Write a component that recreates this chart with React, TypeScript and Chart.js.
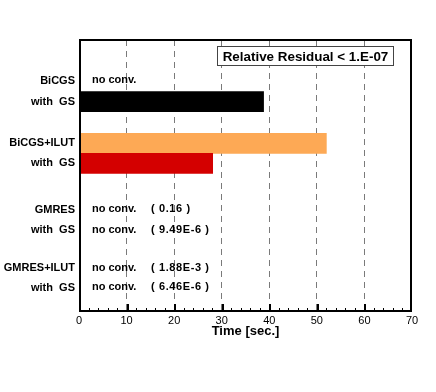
import React, { useEffect, useRef } from "react";
import { Chart, registerables } from "chart.js";

Chart.register(...registerables);

// ---- data ----
const rowLabels = ["BiCGS", "with  GS", "BiCGS+ILUT", "with  GS", "GMRES", "with  GS", "GMRES+ILUT", "with  GS"];
const rowSlots = [4.05, 6.17, 10.33, 12.33, 16.95, 19.0, 22.83, 24.77];
const times: (number | null)[] = [null, 38.8, 52.0, 28.1, null, null, null, null];
const statusNotes = ["no conv.", "", "", "", "no conv.", "no conv.", "no conv.", "no conv."];
const residualNotes = ["", "", "", "", "( 0.16 )", "( 9.49E-6 )", "( 1.88E-3 )", "( 6.46E-6 )"];
const barColors = ["#000000", "#000000", "#FDA955", "#D40000", "#000000", "#000000", "#000000", "#000000"];
const xMin = 0;
const xMax = 70;
const xStep = 10;
const minorStep = 2;
const legendText = "Relative Residual < 1.E-07";
const axisTitle = "Time [sec.]";

const FONT = "'Liberation Sans', Arial, Helvetica, sans-serif";

const decorPlugin = {
  id: "decor",
  afterDatasetsDraw(chart: any) {
    const { ctx, chartArea: a, scales } = chart;
    const x = scales.x;
    const y = scales.y;
    ctx.save();
    // annotations
    ctx.fillStyle = "#000";
    ctx.textAlign = "left";
    ctx.textBaseline = "middle";
    rowSlots.forEach((p, i) => {
      const py = y.getPixelForValue(p) - 0.5;
      ctx.font = `bold 11px ${FONT}`;
      (ctx as any).letterSpacing = "0px";
      if (statusNotes[i]) ctx.fillText(statusNotes[i], a.left + 13, py);
      (ctx as any).letterSpacing = "0.6px";
      if (residualNotes[i]) ctx.fillText(residualNotes[i], a.left + 72, py);
    });
    (ctx as any).letterSpacing = "0px";
    // tick marks
    ctx.strokeStyle = "#000";
    for (let v = xMin + minorStep; v < xMax; v += minorStep) {
      const major = v % xStep === 0;
      const px = major ? Math.round(x.getPixelForValue(v)) + 1 : Math.round(x.getPixelForValue(v)) + 0.5;
      ctx.lineWidth = major ? 2 : 1;
      const len = major ? 7 : 3;
      ctx.beginPath();
      ctx.moveTo(px, a.bottom);
      ctx.lineTo(px, a.bottom - len);
      ctx.stroke();
    }
    // frame
    ctx.lineWidth = 2;
    ctx.strokeRect(a.left + 1, a.top, a.right - 1 - (a.left + 1), a.bottom - a.top);
    // legend box
    ctx.font = `bold 13.4px ${FONT}`;
    const tw = ctx.measureText(legendText).width;
    const bw = Math.round(tw + 10);
    const bx = Math.round(a.right - 19 - bw) + 0.5;
    const by = a.top + 6.5;
    const bh = 19;
    ctx.fillStyle = "#fff";
    ctx.fillRect(bx, by, bw, bh);
    ctx.strokeStyle = "#444";
    ctx.lineWidth = 1;
    ctx.strokeRect(bx, by, bw, bh);
    ctx.fillStyle = "#000";
    ctx.textAlign = "center";
    ctx.textBaseline = "middle";
    ctx.fillText(legendText, bx + bw / 2, by + bh / 2 + 1);
    ctx.restore();
  },
};

export default function App() {
  const ref = useRef<HTMLCanvasElement | null>(null);
  useEffect(() => {
    if (!ref.current) return;
    const chart = new Chart(ref.current, {
      type: "bar",
      data: {
        datasets: [
          {
            data: rowSlots.map((p, i) => ({ x: times[i], y: p })) as any,
            backgroundColor: barColors,
            borderWidth: 0,
            barThickness: 20,
          },
        ],
      },
      options: {
        animation: false,
        responsive: true,
        maintainAspectRatio: false,
        indexAxis: "y",
        layout: { padding: { top: 40, right: 24, left: 0, bottom: 0 } },
        plugins: { legend: { display: false }, tooltip: { enabled: false } },
        scales: {
          x: {
            type: "linear",
            min: xMin,
            max: xMax,
            offset: false,
            afterFit: (s: any) => {
              s.height = 81;
            },
            ticks: {
              stepSize: xStep,
              color: "#000",
              font: { family: FONT, size: 11 },
              padding: 3,
              maxRotation: 0,
            },
            grid: {
              drawTicks: false,
              color: (c: any) => (c.tick && (c.tick.value === xMin || c.tick.value === xMax) ? "rgba(0,0,0,0)" : "#7a7a7a"),
              lineWidth: 1,
            },
            border: { display: false, dash: [6, 5] },
            title: {
              display: true,
              text: axisTitle,
              color: "#000",
              font: { family: FONT, size: 13, weight: "bold" },
              padding: { top: 0, bottom: 53 },
            },
          },
          y: {
            type: "linear",
            min: 0,
            max: 27.1,
            reverse: true,
            offset: false,
            afterFit: (s: any) => {
              s.width = 79;
            },
            afterBuildTicks: (s: any) => {
              s.ticks = rowSlots.map((v) => ({ value: v }));
            },
            ticks: {
              color: "#000",
              font: { family: FONT, size: 11, weight: "bold" },
              padding: 4,
              callback: (_v: any, i: number) => rowLabels[i],
            },
            grid: { display: false, drawTicks: false },
            border: { display: false },
          },
        },
      } as any,
      plugins: [decorPlugin],
    });
    return () => chart.destroy();
  }, []);
  return (
    <div style={{ position: "absolute", left: 0, top: 0, width: 436, height: 392, background: "#fff" }}>
      <canvas ref={ref} />
    </div>
  );
}
